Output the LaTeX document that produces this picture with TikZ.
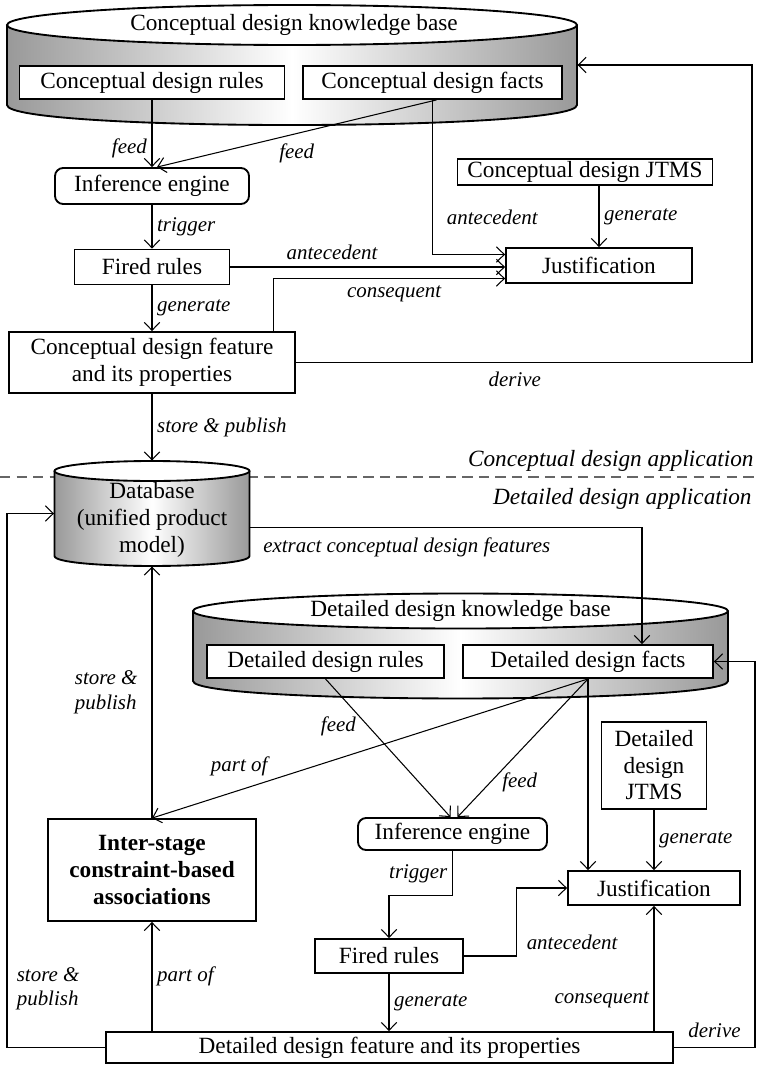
\documentclass[tikz,border=0pt]{standalone}
\usepackage{fontspec}
\setmainfont{Liberation Serif}
\usetikzlibrary{arrows.meta,calc}

\newdimen\pxu
\pxu=0.43pt

\tikzset{
  box/.style={draw, line width=0.8pt, fill=white, inner sep=0pt, align=center, font=\fontsize{10}{11.4}\selectfont},
  rbox/.style={box, rounded corners=3.5pt},
  bbox/.style={box, font=\fontsize{10}{11.6}\selectfont\bfseries},
  lbl/.style={font=\fontsize{9}{10.6}\selectfont\itshape, inner sep=2pt},
  seclbl/.style={font=\fontsize{10}{12}\selectfont\itshape, inner sep=0pt},
  arr/.style={line width=0.45pt, -{Straight Barb[length=3.4pt,width=6.6pt]}},
  drum/.style={left color=black!40, right color=black!40, middle color=white},
  drumline/.style={line width=0.8pt},
  sepline/.style={draw=black!60, line width=0.6pt, dash pattern=on 4.5pt off 2.6pt},
  hold/.style={inner sep=0pt}
}

\begin{document}
\begin{tikzpicture}[x=0.43pt, y=-0.43pt]
  \useasboundingbox (0,0) rectangle (758,1066);

  \shade[drum] (7,25) -- (7,105) .. controls (7,131.7) and (577,131.7) .. (577,105) -- (577,25) -- cycle;
  \draw[drumline] (7,25) -- (7,105) .. controls (7,131.7) and (577,131.7) .. (577,105) -- (577,25);
  \draw[drumline, fill=white] (292,25) ellipse [x radius=285, y radius=20];
  \node[hold, minimum width=570\pxu, minimum height=120\pxu] (ckb) at (292,65) {};
  \node[box, draw=none, fill=none] (ckbtitle) at (294,25) {Conceptual design knowledge base};

  \node[box, minimum width=265\pxu, minimum height=33\pxu] (crules) at (152,82.5) {Conceptual design rules};
  \node[box, minimum width=259\pxu, minimum height=33\pxu] (cfacts) at (432.5,82.5) {Conceptual design facts};
  \node[rbox, minimum width=194\pxu, minimum height=36\pxu] (cinf) at (152,186) {Inference engine};
  \node[box, minimum width=255\pxu, minimum height=26\pxu] (cjtms) at (585,172) {Conceptual design JTMS};
  \node[box, minimum width=186\pxu, minimum height=35\pxu] (cjust) at (599,265.5) {Justification};
  \node[box, minimum width=155\pxu, minimum height=35\pxu] (cfired) at (152,267) {Fired rules};
  \node[box, minimum width=286\pxu, minimum height=61\pxu] (cfeat) at (152,362.5) {Conceptual design feature\\and its properties};

  \coordinate [] (cright) at (752,0);

  \draw[arr] (crules) -- (cinf) node[lbl, pos=0.72, left] {feed};
  \draw[arr] ($(cfacts.south)+(4,0)$) -- ($(cinf.north)+(5,0)$) node[lbl, midway, below=2pt] {feed};
  \draw[arr] (cinf) -- (cfired) node[lbl, midway, right] {trigger};
  \draw[arr] (cfired) -- (cfeat) node[lbl, midway, right] {generate};
  \draw[arr] (cfacts.south) |- ($(cjust.west)+(0,-11)$) node[lbl, pos=0.38, right=4pt] {antecedent};
  \draw[arr] (cjtms.south -| cjust.north) -- (cjust) node[lbl, midway, right] {generate};
  \draw[arr] (cfired) -- (cfired -| cjust.west) node[lbl, pos=0.37, above=1pt] {antecedent};
  \draw[arr] ($(cfeat.north east)+(-22,0)$) |- ($(cjust.west)+(0,13)$) node[lbl, pos=0.76, below=1pt] {consequent};
  \draw[arr] (cfeat.east) -- (cfeat.east -| cright) node[lbl, pos=0.48, below=2pt] {derive} -- (ckb.east -| cright) -- (ckb.east);

  \draw[sepline] (0,477) -- (758,477);
  \node[seclbl, anchor=base east] (capp) at (754,466) {Conceptual design application};
  \node[seclbl, anchor=base east] (dapp) at (752,504) {Detailed design application};

  \shade[drum] (54.5,471) -- (54.5,556) .. controls (54.5,569.3) and (249.5,569.3) .. (249.5,556) -- (249.5,471) -- cycle;
  \draw[drumline] (54.5,471) -- (54.5,556) .. controls (54.5,569.3) and (249.5,569.3) .. (249.5,556) -- (249.5,471);
  \draw[drumline, fill=white] (152,471) ellipse [x radius=97.5, y radius=10];
  \node[hold, minimum width=195\pxu, minimum height=105\pxu] (db) at (152,513.5) {};
  \node[box, draw=none, fill=none, font=\fontsize{10}{11.6}\selectfont] (dbtitle) at (152,520) {Database\\(unified product\\model)};

  \draw[arr] (cfeat) -- (db) node[lbl, midway, right] {store \& publish};

  \shade[drum] (193,611) -- (193,681) .. controls (193,704.3) and (728,704.3) .. (728,681) -- (728,611) -- cycle;
  \draw[drumline] (193,611) -- (193,681) .. controls (193,704.3) and (728,704.3) .. (728,681) -- (728,611);
  \draw[drumline, fill=white] (460.5,611) ellipse [x radius=267.5, y radius=17.5];
  \node[hold, minimum width=535\pxu, minimum height=105\pxu] (dkb) at (460.5,645.5) {};
  \node[box, draw=none, fill=none] (dkbtitle) at (460.5,611) {Detailed design knowledge base};

  \node[box, minimum width=237\pxu, minimum height=33\pxu] (drules) at (325.5,661.5) {Detailed design rules};
  \node[box, minimum width=250\pxu, minimum height=33\pxu] (dfacts) at (588,661.5) {Detailed design facts};
  \node[rbox, minimum width=189\pxu, minimum height=32\pxu] (dinf) at (452.5,834) {Inference engine};
  \node[box, minimum width=105\pxu, minimum height=87\pxu] (djtms) at (654,765.5) {Detailed\\design\\JTMS};
  \node[box, minimum width=172\pxu, minimum height=34\pxu] (djust) at (654,888) {Justification};
  \node[box, minimum width=148\pxu, minimum height=34\pxu] (dfired) at (389,956) {Fired rules};
  \node[box, minimum width=567\pxu, minimum height=31\pxu] (dfeat) at (389.5,1047.5) {Detailed design feature and its properties};
  \node[bbox, minimum width=208\pxu, minimum height=102\pxu] (inter) at (152,870) {Inter-stage\\constraint-based\\associations};

  \coordinate [] (dleft) at (7,0);
  \coordinate [] (dright) at (755,0);

  \draw[arr] ($(db.east)+(0,14)$) -| ($(dfacts.north)+(54,0)$) node[lbl, pos=0.2, below=2pt] {extract conceptual design features};
  \draw[arr] (dfeat.west) -- (dfeat.west -| dleft) -- (db.west -| dleft) node[lbl, pos=0.11, right=2pt, align=left] {store \&\\publish} -- (db.west);
  \draw[arr] (inter) -- (db) node[lbl, midway, left=4pt, align=left] {store \&\\publish};
  \draw[arr] (dfeat.north -| inter.south) -- (inter) node[lbl, midway, right] {part of};
  \draw[arr] (drules.south) -- ($(dinf.north)+(-2,0)$) node[lbl, pos=0.34, left=3pt] {feed};
  \draw[arr] (dfacts.south) -- ($(dinf.north)+(5,0)$) node[lbl, pos=0.75, right=3pt] {feed};
  \draw[arr] (dfacts.south) -- (inter.north) node[lbl, pos=0.8, above=4pt] {part of};
  \draw[arr] (dfacts.south) -- (dfacts.south |- djust.north);
  \draw[arr] (djtms) -- (djust) node[lbl, midway, right] {generate};
  \draw[arr] (dinf.south) -- ++(0,45) node[lbl, midway, left] {trigger} -| (dfired.north);
  \draw[arr] (dfired.east) -- ++(53,0) |- (djust.west) node[lbl, pos=0.1, right=2pt] {antecedent};
  \draw[arr] (dfired) -- (dfired.south |- dfeat.north) node[lbl, midway, right] {generate};
  \draw[arr] (dfeat.north -| djust.south) -- (djust) node[lbl, pos=0.25, left] {consequent};
  \draw[arr] (dfeat.east) -- (dfeat.east -| dright) node[lbl, midway, above=2pt] {derive} -- (dfacts.east -| dright) -- (dfacts.east);

\end{tikzpicture}
\end{document}
